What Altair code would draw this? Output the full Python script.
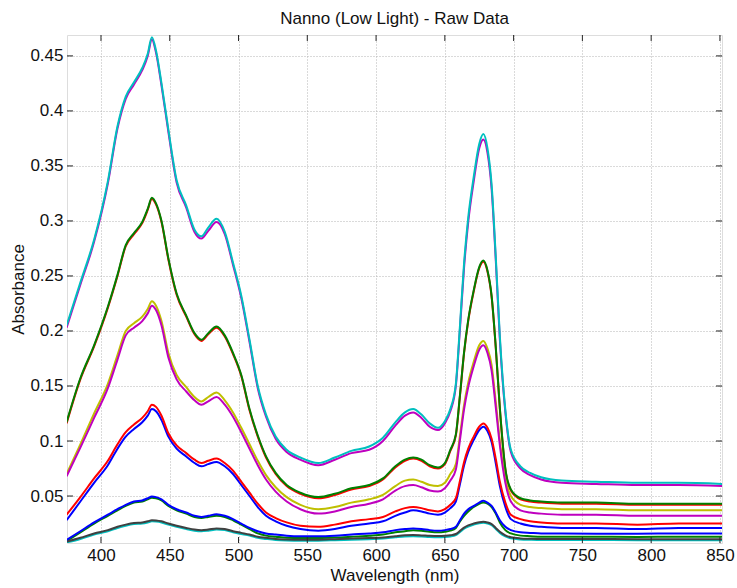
import altair as alt
import pandas as pd

# ---------------- data ----------------
wavelength = [375, 385, 395, 405, 412, 418, 424, 430, 434, 437,
              440, 444, 449, 455, 462, 468, 473, 478, 484, 490,
              496, 502, 508, 514, 520, 527, 535, 545, 558, 570,
              582, 595, 605, 614, 621, 627, 633, 639, 645, 650,
              654, 658, 661, 664, 667, 671, 675, 678, 681, 684,
              687, 690, 694, 698, 705, 712, 720, 735, 760, 790,
              820, 852]

cyan_top = [0.205, 0.244, 0.283, 0.336, 0.386, 0.413, 0.426, 0.439, 0.452, 0.467,
            0.455, 0.425, 0.383, 0.337, 0.314, 0.292, 0.286, 0.294, 0.302, 0.290,
            0.262, 0.232, 0.192, 0.150, 0.124, 0.104, 0.092, 0.085, 0.080, 0.085,
            0.091, 0.095, 0.103, 0.117, 0.126, 0.129, 0.124, 0.116, 0.112, 0.118,
            0.129, 0.152, 0.205, 0.262, 0.303, 0.340, 0.370, 0.379, 0.366, 0.333,
            0.268, 0.195, 0.128, 0.092, 0.077, 0.071, 0.067, 0.064, 0.063, 0.062,
            0.062, 0.061]

magenta_top = [0.203, 0.242, 0.281, 0.334, 0.384, 0.411, 0.424, 0.437, 0.450, 0.465,
               0.453, 0.423, 0.381, 0.335, 0.312, 0.290, 0.284, 0.291, 0.299, 0.288,
               0.260, 0.230, 0.190, 0.148, 0.122, 0.102, 0.090, 0.083, 0.078, 0.083,
               0.089, 0.092, 0.100, 0.114, 0.123, 0.126, 0.121, 0.113, 0.110, 0.116,
               0.127, 0.150, 0.202, 0.258, 0.299, 0.336, 0.366, 0.374, 0.362, 0.329,
               0.265, 0.192, 0.126, 0.090, 0.075, 0.069, 0.065, 0.062, 0.061, 0.060,
               0.060, 0.059]

green_mid = [0.117, 0.157, 0.187, 0.222, 0.251, 0.278, 0.289, 0.299, 0.311, 0.321,
             0.316, 0.300, 0.266, 0.234, 0.214, 0.198, 0.192, 0.198, 0.204, 0.196,
             0.180, 0.160, 0.129, 0.105, 0.086, 0.071, 0.060, 0.053, 0.049, 0.052,
             0.057, 0.060, 0.066, 0.077, 0.083, 0.085, 0.083, 0.078, 0.076, 0.080,
             0.092, 0.106, 0.142, 0.181, 0.210, 0.237, 0.258, 0.264, 0.255, 0.232,
             0.186, 0.130, 0.075, 0.056, 0.048, 0.046, 0.045, 0.044, 0.044, 0.043,
             0.043, 0.043]

red_mid = [0.116, 0.156, 0.186, 0.221, 0.250, 0.277, 0.288, 0.298, 0.310, 0.320,
           0.315, 0.299, 0.265, 0.233, 0.213, 0.197, 0.191, 0.197, 0.203, 0.195,
           0.179, 0.159, 0.128, 0.104, 0.085, 0.070, 0.059, 0.052, 0.048, 0.051,
           0.056, 0.059, 0.065, 0.076, 0.082, 0.084, 0.082, 0.077, 0.075, 0.079,
           0.091, 0.105, 0.141, 0.180, 0.209, 0.236, 0.257, 0.263, 0.254, 0.231,
           0.185, 0.129, 0.074, 0.055, 0.047, 0.045, 0.044, 0.043, 0.043, 0.042,
           0.042, 0.042]

yellow_mid = [0.070, 0.097, 0.125, 0.152, 0.178, 0.200, 0.207, 0.213, 0.220, 0.227,
              0.223, 0.209, 0.180, 0.160, 0.149, 0.140, 0.136, 0.140, 0.144, 0.137,
              0.126, 0.112, 0.097, 0.082, 0.069, 0.058, 0.049, 0.042, 0.038, 0.040,
              0.044, 0.047, 0.051, 0.059, 0.064, 0.065, 0.063, 0.060, 0.059, 0.062,
              0.070, 0.079, 0.105, 0.133, 0.153, 0.172, 0.187, 0.191, 0.184, 0.169,
              0.136, 0.100, 0.066, 0.050, 0.042, 0.040, 0.039, 0.038, 0.038, 0.037,
              0.037, 0.037]

magenta_mid = [0.068, 0.094, 0.121, 0.148, 0.174, 0.196, 0.203, 0.209, 0.216, 0.223,
               0.219, 0.205, 0.176, 0.156, 0.145, 0.137, 0.133, 0.136, 0.140, 0.133,
               0.122, 0.108, 0.093, 0.078, 0.065, 0.054, 0.045, 0.038, 0.034, 0.036,
               0.040, 0.043, 0.047, 0.055, 0.059, 0.060, 0.058, 0.055, 0.054, 0.057,
               0.064, 0.074, 0.101, 0.129, 0.149, 0.168, 0.183, 0.187, 0.180, 0.164,
               0.131, 0.096, 0.062, 0.045, 0.037, 0.035, 0.034, 0.033, 0.033, 0.032,
               0.032, 0.032]

red_low = [0.033, 0.049, 0.066, 0.082, 0.097, 0.108, 0.115, 0.121, 0.127, 0.133,
           0.131, 0.123, 0.107, 0.096, 0.089, 0.083, 0.080, 0.082, 0.084, 0.080,
           0.073, 0.063, 0.053, 0.043, 0.035, 0.030, 0.026, 0.023, 0.022, 0.024,
           0.027, 0.029, 0.031, 0.036, 0.039, 0.040, 0.039, 0.037, 0.036, 0.038,
           0.042, 0.048, 0.064, 0.081, 0.093, 0.104, 0.113, 0.116, 0.112, 0.102,
           0.084, 0.063, 0.044, 0.033, 0.029, 0.027, 0.026, 0.025, 0.025, 0.024,
           0.025, 0.025]

blue_low = [0.028, 0.045, 0.062, 0.078, 0.093, 0.104, 0.111, 0.117, 0.123, 0.129,
            0.127, 0.119, 0.104, 0.093, 0.086, 0.080, 0.077, 0.079, 0.081, 0.077,
            0.070, 0.060, 0.050, 0.040, 0.032, 0.027, 0.023, 0.020, 0.0185, 0.020,
            0.023, 0.025, 0.027, 0.032, 0.035, 0.037, 0.036, 0.034, 0.033, 0.035,
            0.039, 0.045, 0.061, 0.078, 0.090, 0.101, 0.110, 0.113, 0.109, 0.099,
            0.080, 0.059, 0.040, 0.029, 0.025, 0.023, 0.022, 0.021, 0.021, 0.020,
            0.021, 0.021]

blue_small = [0.010, 0.018, 0.026, 0.033, 0.038, 0.042, 0.045, 0.046, 0.048, 0.0495,
              0.049, 0.047, 0.042, 0.038, 0.035, 0.032, 0.031, 0.032, 0.0335, 0.032,
              0.029, 0.025, 0.021, 0.018, 0.016, 0.015, 0.014, 0.0135, 0.0135, 0.014,
              0.015, 0.016, 0.017, 0.019, 0.020, 0.0205, 0.020, 0.019, 0.0185, 0.019,
              0.020, 0.022, 0.028, 0.034, 0.038, 0.041, 0.044, 0.0457, 0.044, 0.041,
              0.035, 0.028, 0.022, 0.019, 0.017, 0.0165, 0.016, 0.016, 0.0158, 0.0157,
              0.016, 0.016]

green_small = [0.009, 0.017, 0.025, 0.032, 0.037, 0.041, 0.044, 0.045, 0.047, 0.0485,
               0.048, 0.046, 0.041, 0.037, 0.034, 0.031, 0.030, 0.031, 0.032, 0.031,
               0.028, 0.024, 0.020, 0.016, 0.014, 0.013, 0.012, 0.0118, 0.0118, 0.0122,
               0.013, 0.014, 0.015, 0.017, 0.018, 0.019, 0.0185, 0.0175, 0.017, 0.0175,
               0.0185, 0.021, 0.027, 0.032, 0.036, 0.040, 0.043, 0.044, 0.043, 0.040,
               0.034, 0.026, 0.019, 0.016, 0.014, 0.0135, 0.013, 0.013, 0.013, 0.0128,
               0.013, 0.013]

gray_tiny = [0.0085, 0.012, 0.016, 0.019, 0.022, 0.024, 0.0255, 0.026, 0.027, 0.028,
             0.0278, 0.027, 0.025, 0.023, 0.021, 0.0195, 0.019, 0.0195, 0.0205, 0.020,
             0.018, 0.0165, 0.015, 0.013, 0.012, 0.011, 0.0105, 0.0102, 0.0103, 0.0108,
             0.0113, 0.0118, 0.0123, 0.0135, 0.0143, 0.0145, 0.0142, 0.0138, 0.0136, 0.0138,
             0.0143, 0.0155, 0.0183, 0.0213, 0.0233, 0.025, 0.0262, 0.0266, 0.026, 0.0245,
             0.021, 0.0175, 0.0143, 0.0125, 0.0115, 0.0112, 0.011, 0.011, 0.011, 0.0108,
             0.0108, 0.0108]

cyan_tiny = [0.0078, 0.011, 0.015, 0.018, 0.021, 0.023, 0.0245, 0.025, 0.026, 0.027,
             0.0268, 0.026, 0.024, 0.022, 0.020, 0.0185, 0.018, 0.0185, 0.0195, 0.019,
             0.017, 0.0155, 0.014, 0.012, 0.011, 0.010, 0.0095, 0.0093, 0.0094, 0.0098,
             0.0103, 0.0108, 0.0113, 0.0125, 0.0133, 0.0135, 0.0132, 0.0128, 0.0126, 0.0128,
             0.0133, 0.0145, 0.0173, 0.0203, 0.0223, 0.024, 0.0252, 0.0256, 0.025, 0.0235,
             0.020, 0.0165, 0.0133, 0.0115, 0.0105, 0.0102, 0.010, 0.010, 0.010, 0.0098,
             0.0098, 0.0098]

x_ticks = [400, 450, 500, 550, 600, 650, 700, 750, 800, 850]
y_ticks = [0.05, 0.1, 0.15, 0.2, 0.25, 0.3, 0.35, 0.4, 0.45]

# draw order (later ones on top) and colours
series = [
    ("blue_low", "#0000FF", blue_low),
    ("green_small", "#008000", green_small),
    ("red_mid", "#FF0000", red_mid),
    ("cyan_tiny", "#00BFBF", cyan_tiny),
    ("magenta_top", "#BF00BF", magenta_top),
    ("yellow_mid", "#BFBF00", yellow_mid),
    ("gray_tiny", "#404040", gray_tiny),
    ("blue_small", "#0000FF", blue_small),
    ("green_mid", "#008000", green_mid),
    ("red_low", "#FF0000", red_low),
    ("cyan_top", "#00BFBF", cyan_top),
    ("magenta_mid", "#BF00BF", magenta_mid),
]

# ---------------- layout ----------------
W, H = 655, 508
FONT = "Liberation Sans"
TXT = "#111111"
FRAME = "#262626"
TICK_LEN = 6

x_scale = alt.Scale(domain=[375.3, 851.5], nice=False, zero=False)
y_scale = alt.Scale(domain=[0.0073, 0.469], nice=False, zero=False)

x_axis = alt.Axis(values=x_ticks, title="Wavelength (nm)", grid=True, ticks=False,
                  tickSize=0, domain=False, labelPadding=4, labelFontSize=17,
                  labelFont=FONT, labelColor=TXT, titleFont=FONT, titleFontSize=17,
                  titleFontWeight="normal", titleColor=TXT, titleY=37,
                  titleBaseline="alphabetic", gridColor="#b5b5b5", gridDash=[1, 2],
                  gridWidth=1, labelFlush=False, labelOverlap=False)
y_axis = alt.Axis(values=y_ticks, title="Absorbance", grid=True, ticks=False,
                  tickSize=0, domain=False, labelPadding=4, labelFontSize=17,
                  labelFont=FONT, labelColor=TXT, titleFont=FONT, titleFontSize=17,
                  titleFontWeight="normal", titleColor=TXT, titleX=-44, titleY=H / 2,
                  titleAngle=270, titleAlign="center", titleBaseline="alphabetic",
                  gridColor="#b5b5b5", gridDash=[1, 2], gridWidth=1, format="~g",
                  labelFlush=False, labelOverlap=False)


def xenc():
    return alt.X("wl:Q", scale=x_scale, axis=x_axis)


def yenc():
    return alt.Y("A:Q", scale=y_scale, axis=y_axis)


layers = []
for name, color, vals in series:
    d = pd.DataFrame({"wl": wavelength, "A": vals})
    layers.append(
        alt.Chart(d).mark_line(color=color, strokeWidth=2, clip=True,
                               interpolate="monotone")
        .encode(x=xenc(), y=yenc())
    )

xt = pd.DataFrame({"wl": x_ticks})
yt = pd.DataFrame({"A": y_ticks})
tick_color = FRAME
layers.append(alt.Chart(xt).mark_rule(color=tick_color, strokeWidth=1)
              .encode(x=xenc(), y=alt.value(H), y2=alt.value(H - TICK_LEN)))
layers.append(alt.Chart(xt).mark_rule(color=tick_color, strokeWidth=1)
              .encode(x=xenc(), y=alt.value(0), y2=alt.value(TICK_LEN)))
layers.append(alt.Chart(yt).mark_rule(color=tick_color, strokeWidth=1)
              .encode(y=yenc(), x=alt.value(0), x2=alt.value(TICK_LEN)))
layers.append(alt.Chart(yt).mark_rule(color=tick_color, strokeWidth=1)
              .encode(y=yenc(), x=alt.value(W - TICK_LEN), x2=alt.value(W)))

chart = (
    alt.layer(*layers)
    .properties(
        width=W, height=H,
        title=alt.TitleParams(text="Nanno (Low Light) - Raw Data", font=FONT,
                              fontSize=17, fontWeight="normal", color=TXT,
                              anchor="middle", frame="group",
                              baseline="alphabetic", offset=12, dy=18),
        autosize=alt.AutoSizeParams(type="none"),
        padding={"left": 67, "top": 35, "right": 15, "bottom": 45},
    )
    .configure_view(stroke=FRAME, strokeWidth=1)
    .configure(background="white")
)

chart.save("out.html", embed_options={"renderer": "svg", "actions": False})
